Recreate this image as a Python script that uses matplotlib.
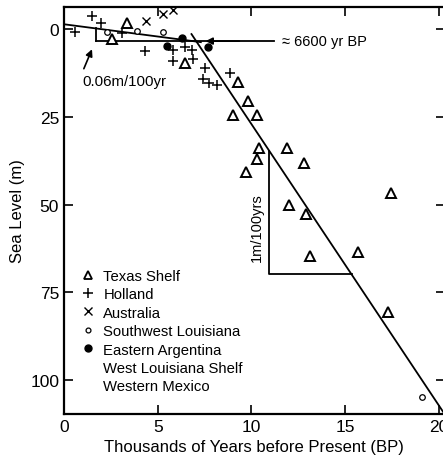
"""Holocene sea-level curve: sea level vs. thousands of years BP."""
import matplotlib
matplotlib.use("Agg")
import matplotlib.pyplot as plt
from matplotlib.lines import Line2D

plt.rcParams["font.family"] = ["Liberation Sans", "DejaVu Sans"]

# --- data (x: ky BP, y: m below present) ---
texas_x = [3.35, 2.55, 6.45, 9.3, 9.8, 9.0, 10.27, 10.4, 11.9, 10.27, 12.8,
           9.72, 17.45, 12.0, 12.9, 15.7, 13.1, 17.3]
texas_y = [-1.7, 2.9, 9.6, 15.0, 20.5, 24.4, 24.4, 34.0, 34.0, 37.0, 38.2,
           40.8, 46.7, 50.1, 52.7, 63.5, 64.6, 80.6]

holland_x = [1.5, 1.95, 0.58, 3.1, 4.3, 5.8, 6.45, 6.85, 5.8, 6.9, 7.5,
             7.4, 7.75, 8.15, 8.85]
holland_y = [-3.7, -1.7, 0.9, 1.0, 6.2, 5.8, 5.2, 5.8, 9.0, 8.5, 11.0,
             14.2, 15.4, 15.9, 12.4]

australia_x = [4.35, 5.3, 5.8]
australia_y = [-2.4, -4.4, -5.6]

swla_x = [2.3, 3.9, 5.3, 19.1]
swla_y = [0.9, 0.5, 0.9, 104.8]

argentina_x = [5.5, 6.3, 7.7]
argentina_y = [4.8, 2.6, 5.0]

# trend lines
shallow_x = [0.0, 7.3]
shallow_y = [-1.4, 3.7]
steep_x = [6.8, 20.4]
steep_y = [1.4, 110.5]
level_x = [1.7, 11.2]
level_y = [3.4, 3.4]
small_tri_x = [1.7, 1.7]
small_tri_y = [-0.2, 3.4]
big_tri_x = [10.96, 10.96, 15.37]
big_tri_y = [34.8, 69.8, 69.8]

x_ticks = [0, 5, 10, 15, 20]
y_ticks = [0, 25, 50, 75, 100]

fig = plt.figure(figsize=(4.43, 4.64), dpi=100)
ax = fig.add_axes([0.1445, 0.1056, 0.859, 0.877])

lw = 1.3
ax.plot(shallow_x, shallow_y, color="black", lw=lw)
ax.plot(steep_x, steep_y, color="black", lw=lw)
ax.plot(level_x, level_y, color="black", lw=lw)
ax.plot(small_tri_x, small_tri_y, color="black", lw=lw)
ax.plot(big_tri_x, big_tri_y, color="black", lw=lw)

ax.plot(texas_x, texas_y, ls="none", marker="^", ms=6.5, mfc="white",
        mec="black", mew=1.4, clip_on=False)
ax.plot(holland_x, holland_y, ls="none", marker="+", ms=7, mec="black",
        mew=1.1, clip_on=False)
ax.plot(australia_x, australia_y, ls="none", marker="x", ms=5.5, mec="black",
        mew=1.0, clip_on=True)
ax.plot(swla_x, swla_y, ls="none", marker="o", ms=4, mfc="white",
        mec="black", mew=0.9)
ax.plot(argentina_x, argentina_y, ls="none", marker="o", ms=5, color="black")

ax.annotate("", xy=(7.4, 3.4), xytext=(9.5, 3.4),
            arrowprops=dict(arrowstyle="-|>", color="black", lw=lw,
                            mutation_scale=10))
ax.text(11.65, 3.4, "\u2248 6600 yr BP", fontsize=10.5, va="center", ha="left")

ax.annotate("", xy=(1.55, 5.0), xytext=(1.0, 12.0),
            arrowprops=dict(arrowstyle="-|>", color="black", lw=1.2,
                            mutation_scale=10))
ax.text(1.0, 14.8, "0.06m/100yr", fontsize=10.8, va="center", ha="left")

ax.text(10.3, 56.4, "1m/100yrs", fontsize=10.5, rotation=90,
        va="center", ha="center")

handles = [
    Line2D([], [], ls="none", marker="^", ms=6, mfc="white", mec="black", mew=1.3),
    Line2D([], [], ls="none", marker="+", ms=6.5, mec="black", mew=1.1),
    Line2D([], [], ls="none", marker="x", ms=5.5, mec="black", mew=1.0),
    Line2D([], [], ls="none", marker="o", ms=3.5, mfc="white", mec="black", mew=0.9),
    Line2D([], [], ls="none", marker="o", ms=5, color="black"),
    Line2D([], [], ls="none"),
    Line2D([], [], ls="none"),
]
labels = ["Texas Shelf", "Holland", "Australia", "Southwest Louisiana",
          "Eastern Argentina", "West Louisiana Shelf", "Western Mexico"]
ax.legend(handles, labels, loc="upper left", bbox_to_anchor=(0.045, 0.357),
          frameon=False, fontsize=10.7, handlelength=0.95, handletextpad=0.55,
          labelspacing=0.30, borderpad=0, borderaxespad=0)

ax.set_xlim(0, 20.3)
ax.set_ylim(109.7, -6.3)
ax.set_xticks(x_ticks)
ax.set_yticks(y_ticks)
ax.tick_params(direction="in", length=6.5, width=1.2, labelsize=12.5,
               top=True, right=True)
for s in ax.spines.values():
    s.set_linewidth(1.6)

ax.set_xlabel("Thousands of Years before Present (BP)", fontsize=12, labelpad=4)
ax.set_ylabel("Sea Level (m)", fontsize=12, labelpad=4)

fig.savefig("out.png", dpi=100)
